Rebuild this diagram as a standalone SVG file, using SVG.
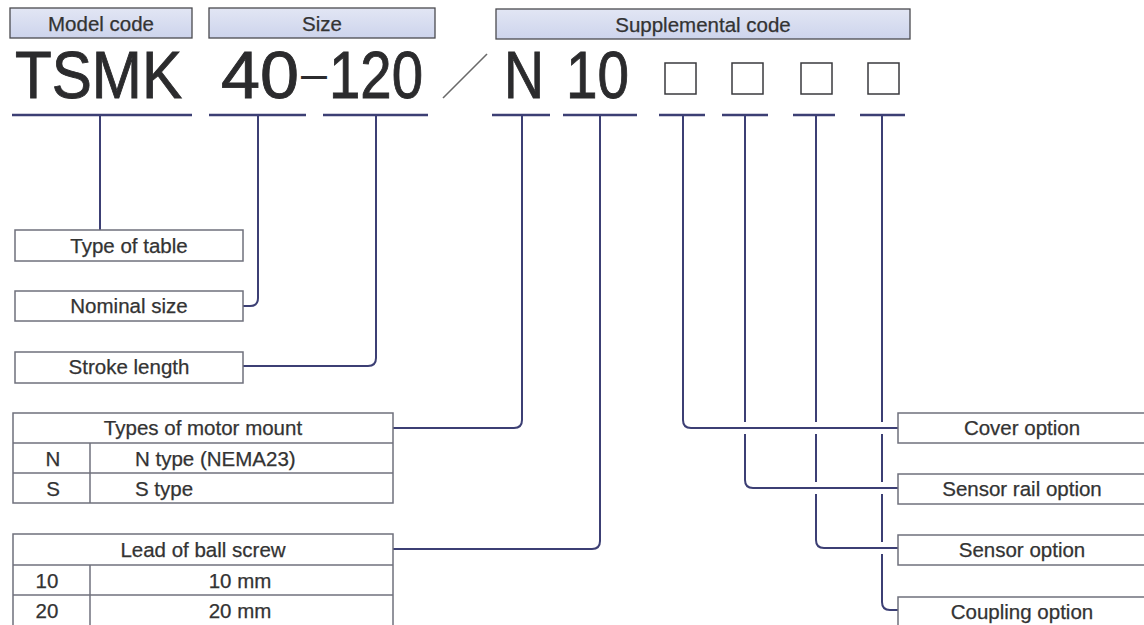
<svg xmlns="http://www.w3.org/2000/svg" width="1144" height="625" viewBox="0 0 1144 625">
<defs>
<linearGradient id="hdr" x1="0" y1="0" x2="0" y2="1">
<stop offset="0" stop-color="#e2e6f4"/>
<stop offset="1" stop-color="#cdd4ec"/>
</linearGradient>
</defs>
<style>
.hbox{fill:url(#hdr);stroke:#4a4a4f;stroke-width:1.3}
.box{fill:#fff;stroke:#6f707c;stroke-width:1.5}
.grid{stroke:#6f707c;stroke-width:1.5;fill:none}
.lbl{font-family:"Liberation Sans",Arial,sans-serif;font-size:20.5px;fill:#333;stroke:#333;stroke-width:0.25;text-anchor:middle}
.lbll{font-family:"Liberation Sans",Arial,sans-serif;font-size:20.5px;fill:#333;stroke:#333;stroke-width:0.25}
.big{font-family:"Liberation Sans",Arial,sans-serif;font-size:66px;fill:#2b2b2d;stroke:#2b2b2d;stroke-width:0.9}
.ul{stroke:#3c3f74;stroke-width:2.5}
.con{fill:none;stroke:#3c3f74;stroke-width:2}
.halo{stroke:#fff;stroke-width:12}
.sq{fill:#fff;stroke:#3a3a3e;stroke-width:1.5}
</style>
<rect width="1144" height="625" fill="#fff"/>

<g id="header-model">
<rect class="hbox" x="10" y="8" width="182" height="30"/>
<text class="lbl" x="101" y="31">Model code</text>
</g>
<g id="header-size">
<rect class="hbox" x="209" y="8" width="226" height="30"/>
<text class="lbl" x="322" y="31">Size</text>
</g>
<g id="header-supp">
<rect class="hbox" x="496" y="9" width="414" height="30"/>
<text class="lbl" x="703" y="32">Supplemental code</text>
</g>

<g id="code">
<text class="big" x="15" y="98" textLength="167" lengthAdjust="spacingAndGlyphs">TSMK</text>
<text class="big" x="221" y="98" textLength="78" lengthAdjust="spacingAndGlyphs">40</text>
<text x="301" y="89" font-family="Liberation Sans, Arial, sans-serif" font-size="44" fill="#2b2b2d" textLength="26" lengthAdjust="spacingAndGlyphs">–</text>
<text class="big" x="329" y="98" textLength="94" lengthAdjust="spacingAndGlyphs">120</text>
<line x1="443" y1="98" x2="487" y2="54" stroke="#6a6a6a" stroke-width="1.6"/>
<text class="big" x="504" y="98" textLength="40" lengthAdjust="spacingAndGlyphs">N</text>
<text class="big" x="566" y="98" textLength="63" lengthAdjust="spacingAndGlyphs">10</text>
<rect class="sq" x="665" y="63" width="31" height="31"/>
<rect class="sq" x="732" y="63" width="31" height="31"/>
<rect class="sq" x="801" y="63" width="31" height="31"/>
<rect class="sq" x="868" y="63" width="31" height="31"/>
</g>

<g id="underlines">
<line class="ul" x1="12" y1="115" x2="192" y2="115" stroke="#555a78"/>
<line class="ul" x1="209" y1="115" x2="306" y2="115"/>
<line class="ul" x1="323" y1="115" x2="428" y2="115"/>
<line class="ul" x1="492" y1="115" x2="550" y2="115"/>
<line class="ul" x1="563" y1="115" x2="637" y2="115"/>
<line class="ul" x1="659" y1="115" x2="705" y2="115"/>
<line class="ul" x1="722" y1="115" x2="768" y2="115"/>
<line class="ul" x1="793" y1="115" x2="835" y2="115"/>
<line class="ul" x1="860" y1="115" x2="905" y2="115"/>
</g>

<g id="connectors">
<path class="con" d="M100,115 V230"/>
<path class="con" d="M258,115 V298 Q258,306 250,306 H243"/>
<path class="con" d="M376,115 V358 Q376,366 368,366 H243"/>
<path class="con" d="M522,115 V420 Q522,428 514,428 H393"/>
<path class="con" d="M600,115 V541 Q600,549 592,549 H393"/>
<path class="con" d="M882,115 V602 Q882,610 890,610 H898"/>
<line class="halo" x1="830" y1="548" x2="896" y2="548"/>
<path class="con" d="M816,115 V540 Q816,548 824,548 H898"/>
<line class="halo" x1="760" y1="488" x2="896" y2="488"/>
<path class="con" d="M745,115 V480 Q745,488 753,488 H898"/>
<line class="halo" x1="698" y1="428" x2="896" y2="428"/>
<path class="con" d="M683,115 V420 Q683,428 691,428 H898"/>
</g>

<g id="type-of-table">
<rect class="box" x="15" y="230" width="228" height="31"/>
<text class="lbl" x="129" y="253">Type of table</text>
</g>
<g id="nominal-size">
<rect class="box" x="15" y="291" width="228" height="30"/>
<text class="lbl" x="129" y="313">Nominal size</text>
</g>
<g id="stroke-length">
<rect class="box" x="15" y="352" width="228" height="31"/>
<text class="lbl" x="129" y="374">Stroke length</text>
</g>

<g id="motor-mount">
<rect class="box" x="13" y="413" width="380" height="90"/>
<line class="grid" x1="13" y1="443" x2="393" y2="443"/>
<line class="grid" x1="13" y1="473" x2="393" y2="473"/>
<line class="grid" x1="90" y1="443" x2="90" y2="503"/>
<text class="lbl" x="203" y="435">Types of motor mount</text>
<text class="lbl" x="53" y="466">N</text>
<text class="lbll" x="135" y="466">N type (NEMA23)</text>
<text class="lbl" x="53" y="496">S</text>
<text class="lbll" x="135" y="496">S type</text>
</g>

<g id="lead-screw">
<rect class="box" x="13" y="534" width="380" height="96"/>
<line class="grid" x1="13" y1="565" x2="393" y2="565"/>
<line class="grid" x1="13" y1="595" x2="393" y2="595"/>
<line class="grid" x1="90" y1="565" x2="90" y2="630"/>
<text class="lbl" x="203" y="557">Lead of ball screw</text>
<text class="lbl" x="47" y="588">10</text>
<text class="lbl" x="240" y="588">10 mm</text>
<text class="lbl" x="47" y="618">20</text>
<text class="lbl" x="240" y="618">20 mm</text>
</g>

<g id="cover-option">
<rect class="box" x="898" y="413" width="260" height="30"/>
<text class="lbl" x="1022" y="435">Cover option</text>
</g>
<g id="sensor-rail-option">
<rect class="box" x="898" y="474" width="260" height="30"/>
<text class="lbl" x="1022" y="496">Sensor rail option</text>
</g>
<g id="sensor-option">
<rect class="box" x="898" y="535" width="260" height="30"/>
<text class="lbl" x="1022" y="557">Sensor option</text>
</g>
<g id="coupling-option">
<rect class="box" x="898" y="597" width="260" height="40"/>
<text class="lbl" x="1022" y="619">Coupling option</text>
</g>
</svg>
